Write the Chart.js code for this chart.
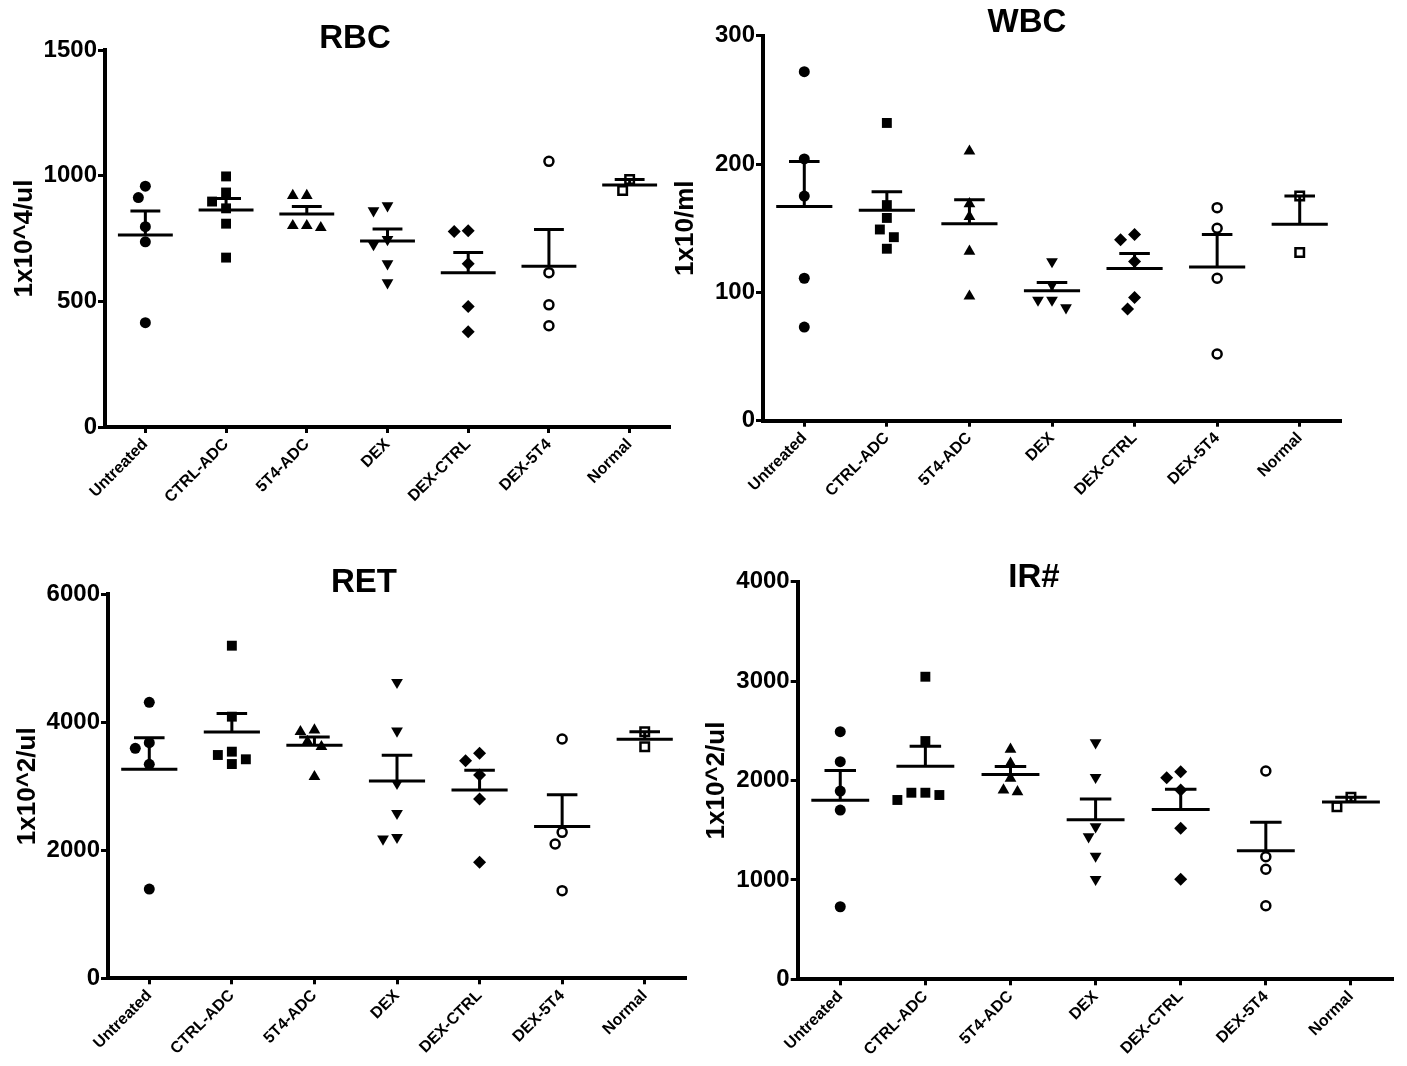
<!DOCTYPE html>
<html>
<head>
<meta charset="utf-8">
<title>RBC / WBC / RET / IR#</title>
<script src="https://cdn.jsdelivr.net/npm/chart.js@4.4.0/dist/chart.umd.min.js"></script>
<style>
  body { margin: 0; background: #fff; width: 1407px; height: 1066px; position: relative; overflow: hidden; }
  canvas { position: absolute; }
</style>
</head>
<body>
<canvas id="rbcChart" width="710" height="530" style="left:0;top:0"></canvas>
<canvas id="wbcChart" width="722" height="530" style="left:666px;top:0"></canvas>
<canvas id="retChart" width="728" height="536" style="left:0;top:530px"></canvas>
<canvas id="irChart" width="736" height="536" style="left:666px;top:530px"></canvas>
<script>
/* ================= DATA ================= */

const groups = ["Untreated", "CTRL-ADC", "5T4-ADC", "DEX", "DEX-CTRL", "DEX-5T4", "Normal"];

// one inner array per group
const rbcValues = [
    [958, 913, 797, 737, 415],
    [997, 933, 897, 870, 809, 674],
    [921, 921, 801, 793, 801],
    [881, 861, 746, 726, 650, 574],
    [781, 778, 650, 479, 379],
    [1057, 614, 486, 403],
    [985, 941]
];
const wbcValues = [
    [272, 204, 175, 111, 73],
    [232, 168, 158, 149, 143, 134],
    [210, 169, 159, 132, 97],
    [124, 106, 94, 88, 94],
    [141, 145, 124, 96, 87],
    [166, 150, 111, 52],
    [175, 131]
];
const retValues = [
    [4312, 3681, 3594, 3344, 1395],
    [5197, 4088, 3541, 3489, 3422, 3348],
    [3880, 3853, 3700, 3619, 3150],
    [4625, 3864, 3047, 2578, 2203, 2177],
    [3516, 3400, 3177, 2802, 1812],
    [3739, 2281, 2098, 1369],
    [3853, 3619]
];
const irValues = [
    [2491, 2189, 1894, 1703, 730],
    [3044, 2397, 1877, 1877, 1854, 1804],
    [2314, 2173, 2022, 1904, 1887],
    [2381, 2032, 1535, 1435, 1240, 1006],
    [2089, 2028, 1904, 1519, 1006],
    [2096, 1233, 1107, 740],
    [1831, 1737]
];

const rbcTicks = [0, 500, 1000, 1500];
const wbcTicks = [0, 100, 200, 300];
const retTicks = [0, 2000, 4000, 6000];
const irTicks = [0, 1000, 2000, 3000, 4000];

/* ================= STYLE ================= */

const FONT = "'Liberation Sans', Arial, sans-serif";
Chart.defaults.font.family = FONT;
Chart.defaults.font.weight = "bold";
Chart.defaults.color = "#000";

const markers = [
    { pointStyle: "circle", radius: 5.5, open: false },
    { pointStyle: "rect", radius: 7, open: false },
    { pointStyle: "triangle", radius: 6.8, open: false },
    { pointStyle: "triangle", radius: 6.8, rotation: 180, open: false },
    { pointStyle: "rectRot", radius: 6.5, open: false },
    { pointStyle: "circle", radius: 4.5, open: true },
    { pointStyle: "rect", radius: 6, open: true }
];

function meanSem(vals) {
    const n = vals.length;
    const mean = vals.reduce((a, b) => a + b, 0) / n;
    const sd = Math.sqrt(vals.reduce((a, b) => a + (b - mean) * (b - mean), 0) / (n - 1));
    return { mean: mean, sem: sd / Math.sqrt(n) };
}

// mean line + upper SEM bar for every group, and the panel title
function panelPlugin(values, title, g) {
    return {
        id: "panel",
        afterDatasetsDraw(chart) {
            const ctx = chart.ctx;
            const x = chart.scales.x, y = chart.scales.y;
            ctx.save();
            ctx.strokeStyle = "#000";
            ctx.lineWidth = 3;
            values.forEach((vals, gi) => {
                const s = meanSem(vals);
                const cx = x.getPixelForValue(gi);
                const w = x.getPixelForValue(gi + 0.34) - cx;
                const c = x.getPixelForValue(gi + 0.185) - cx;
                const ym = y.getPixelForValue(s.mean);
                const yt = y.getPixelForValue(s.mean + s.sem);
                ctx.beginPath();
                ctx.moveTo(cx - w, ym); ctx.lineTo(cx + w, ym);
                ctx.moveTo(cx, ym); ctx.lineTo(cx, yt);
                ctx.moveTo(cx - c, yt); ctx.lineTo(cx + c, yt);
                ctx.stroke();
            });
            ctx.restore();
        },
        afterDraw(chart) {
            const ctx = chart.ctx;
            ctx.save();
            ctx.fillStyle = "#000";
            ctx.font = "bold 33px " + FONT;
            ctx.textAlign = "center";
            ctx.textBaseline = "middle";
            ctx.fillText(title, g.titleX, g.titleY);
            ctx.restore();
        }
    };
}

// spread overlapping points sideways, like a scatter dot plot
function swarm(chart, values) {
    const xs = chart.scales.x, ys = chart.scales.y;
    const unit = xs.getPixelForValue(1) - xs.getPixelForValue(0);
    chart.data.datasets.forEach((ds, gi) => {
        const vals = values[gi];
        const order = vals.map((v, i) => i).sort((a, b) => vals[b] - vals[a]);
        const placed = [];
        order.forEach(i => {
            const py = ys.getPixelForValue(vals[i]);
            let off = 0;
            for (let k = 0; k < 30; k++) {
                const cand = k === 0 ? 0 : (k % 2 ? -1 : 1) * Math.ceil(k / 2) * 7;
                if (placed.every(p => Math.hypot(p.x - cand, p.y - py) >= 12)) { off = cand; break; }
            }
            placed.push({ x: off, y: py });
            ds.data[i].x = gi + off / unit;
        });
    });
    chart.update("none");
}

function makeChart(id, title, yTitle, values, ticks, g) {
    const datasets = values.map((vals, gi) => {
        const m = markers[gi];
        return {
            label: groups[gi],
            data: vals.map(v => ({ x: gi, y: v })),
            pointStyle: m.pointStyle,
            pointRadius: m.radius,
            pointRotation: m.rotation || 0,
            pointBackgroundColor: m.open ? "#fff" : "#000",
            pointBorderColor: "#000",
            pointBorderWidth: m.open ? 2.5 : 0,
            clip: false
        };
    });

    const chart = new Chart(document.getElementById(id), {
        type: "scatter",
        data: { datasets: datasets },
        plugins: [panelPlugin(values, title, g)],
        options: {
            responsive: false,
            animation: false,
            layout: { padding: { left: 0, right: g.padRight, top: g.padTop, bottom: g.padBottom } },
            plugins: {
                legend: { display: false },
                tooltip: { enabled: false },
                title: { display: false }
            },
            scales: {
                x: {
                    type: "linear",
                    min: -0.5,
                    max: 6.5,
                    afterBuildTicks: s => { s.ticks = groups.map((c, i) => ({ value: i })); },
                    afterFit: s => { s.height = g.xHeight; },
                    ticks: {
                        callback: v => groups[v],
                        minRotation: 45,
                        maxRotation: 45,
                        autoSkip: false,
                        padding: 2,
                        color: "#000",
                        font: { size: 16, weight: "bold" }
                    },
                    grid: { drawOnChartArea: false, drawTicks: true, tickLength: 6, tickWidth: 3, tickColor: "#000" },
                    border: { display: true, width: 4, color: "#000" }
                },
                y: {
                    min: 0,
                    max: ticks[ticks.length - 1],
                    afterBuildTicks: s => { s.ticks = ticks.map(v => ({ value: v })); },
                    afterFit: s => { s.width = g.yWidth; },
                    ticks: {
                        callback: v => String(v),
                        padding: 1,
                        color: "#000",
                        font: { size: 24, weight: "bold" }
                    },
                    grid: { drawOnChartArea: false, drawTicks: true, tickLength: 7, tickWidth: 3, tickColor: "#000" },
                    border: { display: true, width: 4, color: "#000" },
                    title: {
                        display: true,
                        text: yTitle,
                        color: "#000",
                        font: { size: 26, weight: "bold" },
                        padding: { top: g.yTitlePad, bottom: 0 }
                    }
                }
            }
        }
    });
    swarm(chart, values);
    return chart;
}

/* ================= PANELS ================= */

makeChart("rbcChart", "RBC", "1x10^4/ul", rbcValues, rbcTicks,
    { yWidth: 105, xHeight: 100, padTop: 50, padBottom: 3, padRight: 40, titleX: 355, titleY: 39, yTitlePad: 9.4 });

makeChart("wbcChart", "WBC", "1x10/ml", wbcValues, wbcTicks,
    { yWidth: 97, xHeight: 100, padTop: 35.7, padBottom: 9.3, padRight: 47, titleX: 361, titleY: 23, yTitlePad: 4.4 });

makeChart("retChart", "RET", "1x10^2/ul", retValues, retTicks,
    { yWidth: 108, xHeight: 85, padTop: 64.3, padBottom: 2.7, padRight: 42, titleX: 364, titleY: 53, yTitlePad: 11.9 });

makeChart("irChart", "IR#", "1x10^2/ul", irValues, irTicks,
    { yWidth: 131.7, xHeight: 85, padTop: 51.7, padBottom: 1.7, padRight: 5.3, titleX: 368, titleY: 48, yTitlePad: 34.9 });
</script>
</body>
</html>
